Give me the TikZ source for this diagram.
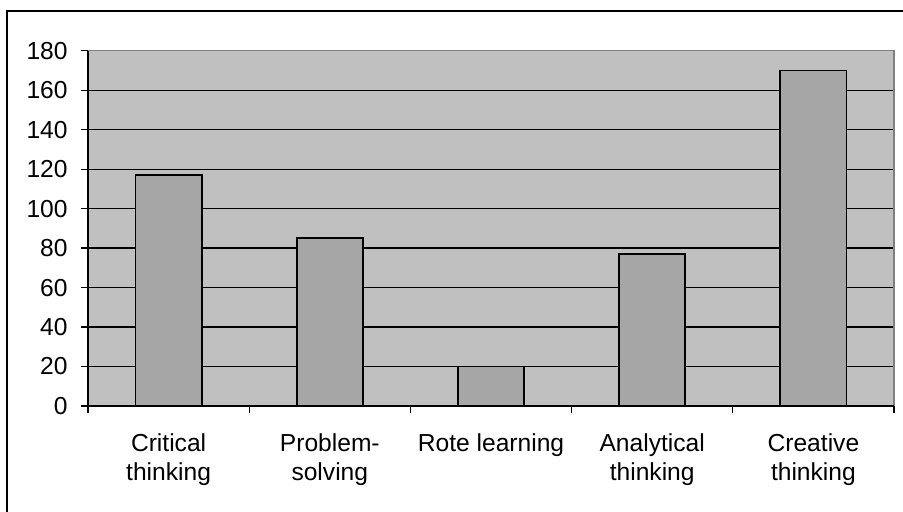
\documentclass[tikz,border=0pt]{standalone}
\usepackage{fontspec}
\setmainfont{Liberation Sans}
\usetikzlibrary{positioning}

\definecolor{plotgray}{HTML}{C0C0C0}
\definecolor{bargray}{HTML}{A6A6A6}
\definecolor{framegray}{HTML}{808080}

\begin{document}
\begin{tikzpicture}[x=0.5pt,y=0.5pt,font=\fontsize{12.3}{14.6}\selectfont]
  \tikzstyle{bar}=[draw=black, fill=bargray, line width=0.9pt]
  \tikzstyle{grid line}=[draw=black, line width=0.6pt]
  \tikzstyle{tick label}=[anchor=east, inner sep=0pt, xshift=-10pt]
  \tikzstyle{cat label}=[align=center, anchor=north, inner sep=0pt, yshift=-13.5pt]

 \useasboundingbox (0,0) rectangle (903,512);

 % outer frame (cut off at right and bottom)
 \draw[line width=1pt] (7,0) -- (7,501) -- (903,501);

 \begin{scope}[shift={(88,106)}, x=80.6pt, y=0.987pt]
  \fill[plotgray] (0,0) rectangle (5,180);
  \foreach \v in {20,40,...,160}
    \draw[grid line] (0,\v) -- (5,\v);

  \draw[bar] (0.295,0) rectangle (0.705,117);
  \draw[bar] (1.295,0) rectangle (1.705,85);
  \draw[bar] (2.295,0) rectangle (2.705,20);
  \draw[bar] (3.295,0) rectangle (3.705,77);
  \draw[bar] (4.295,0) rectangle (4.705,170);

  \draw[framegray, line width=0.8pt] (0,180) -- (5,180) -- (5,0);
  \draw[line width=0.6pt] (0,180) -- (0,0) -- (5,0);

  % ticks
  \foreach \v in {0,20,...,180}
    \draw[line width=0.6pt] (0,\v) -- ++(-3.5pt,0);
  \foreach \i in {0,...,5}
    \draw[line width=0.6pt] (\i,0) -- ++(0,-3.5pt);

  \node[tick label] (y0) at (0,0) {0};
  \node[tick label] (y20) at (0,20) {20};
  \node[tick label] (y40) at (0,40) {40};
  \node[tick label] (y60) at (0,60) {60};
  \node[tick label] (y80) at (0,80) {80};
  \node[tick label] (y100) at (0,100) {100};
  \node[tick label] (y120) at (0,120) {120};
  \node[tick label] (y140) at (0,140) {140};
  \node[tick label] (y160) at (0,160) {160};
  \node[tick label] (y180) at (0,180) {180};

  \node[cat label] (critical) at (0.5,0) {Critical\\thinking};
  \node[cat label] (problem) at (1.5,0) {Problem-\\solving};
  \node[cat label] (rote) at (2.5,0) {Rote learning};
  \node[cat label] (analytical) at (3.5,0) {Analytical\\thinking};
  \node[cat label] (creative) at (4.5,0) {Creative\\thinking};
 \end{scope}
\end{tikzpicture}
\end{document}
